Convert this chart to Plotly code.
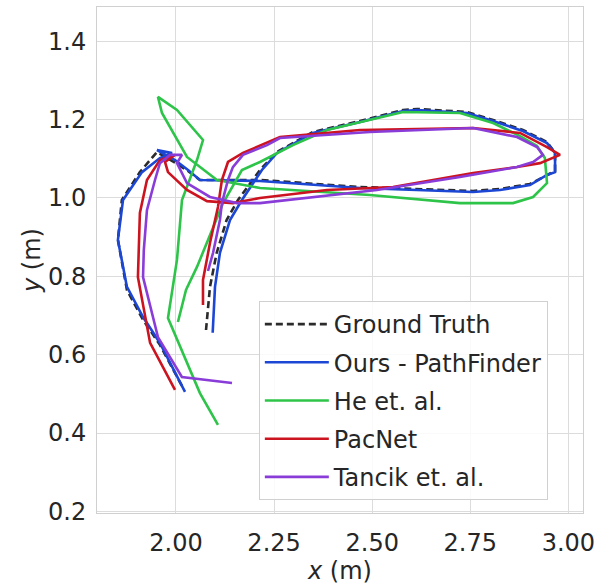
import plotly.graph_objects as go

# ---- data ----
gt_x = [2.0765, 2.0866, 2.1037, 2.129, 2.158, 2.214, 2.2574, 2.349, 2.469, 2.5785, 2.614, 2.7416, 2.808, 2.884,
        2.9455, 2.966, 2.966, 2.9455, 2.902, 2.8257, 2.757, 2.469, 2.214, 2.061, 2.0306, 2.0025, 1.967, 1.9516,
        1.934, 1.908, 1.862, 1.852, 1.875, 1.916, 1.959, 2.018]
gt_y = [0.663, 0.773, 0.860, 0.9438, 0.9949, 1.0715, 1.1174, 1.1685, 1.1966, 1.2247, 1.2272, 1.2196, 1.199, 1.1736,
        1.143, 1.115, 1.069, 1.0587, 1.0357, 1.023, 1.018, 1.028, 1.046, 1.046, 1.069, 1.087, 1.107, 1.1174,
        1.097, 1.066, 0.995, 0.893, 0.765, 0.689, 0.625, 0.515]

ours_x = [2.0935, 2.0994, 2.112, 2.1376, 2.168, 2.219, 2.2574, 2.349, 2.469, 2.5785, 2.614, 2.7416, 2.808, 2.884,
          2.9455, 2.966, 2.966, 2.9455, 2.902, 2.8257, 2.757, 2.469, 2.214, 2.061, 2.0306, 1.9975, 1.9516, 1.99,
          1.959, 1.9134, 1.865, 1.852, 1.875, 1.916, 1.959, 2.023]
ours_y = [0.656, 0.773, 0.860, 0.9438, 0.9949, 1.0715, 1.115, 1.166, 1.194, 1.222, 1.2247, 1.217, 1.1966, 1.171,
          1.140, 1.115, 1.066, 1.0587, 1.033, 1.0204, 1.0153, 1.0255, 1.0434, 1.046, 1.0715, 1.097, 1.1225, 1.115,
          1.102, 1.066, 0.995, 0.893, 0.773, 0.696, 0.630, 0.505]

he_x = [2.005, 2.0255, 2.0535, 2.0866, 2.12, 2.168, 2.214, 2.298, 2.385, 2.5785, 2.7237, 2.808, 2.8767, 2.92,
        2.940, 2.9455, 2.91, 2.859, 2.7237, 2.494, 2.214, 2.1045, 2.028, 1.9643, 1.954, 2.0025, 2.0688, 2.0535,
        2.0153, 2.0025, 1.9796, 2.061, 2.107]
he_y = [0.6834, 0.765, 0.824, 0.9055, 0.987, 1.0715, 1.092, 1.135, 1.1736, 1.2196, 1.217, 1.1915, 1.158, 1.1328,
        1.102, 1.038, 1.0026, 0.987, 0.987, 1.0077, 1.0255, 1.046, 1.1047, 1.217, 1.258, 1.2247, 1.148, 1.097,
        0.995, 0.842, 0.6936, 0.502, 0.4205]

pac_x = [2.0688, 2.0688, 2.0866, 2.107, 2.117, 2.1325, 2.1707, 2.265, 2.469, 2.757, 2.8767, 2.9455, 2.9786, 2.9276,
         2.869, 2.757, 2.553, 2.385, 2.214, 2.145, 2.079, 2.028, 1.9796, 1.972, 1.9975, 1.959, 1.926, 1.908,
         1.903, 1.934, 1.9975]
pac_y = [0.7268, 0.7907, 0.885, 0.977, 1.046, 1.092, 1.115, 1.1557, 1.1736, 1.1787, 1.166, 1.130, 1.11, 1.089,
         1.079, 1.0638, 1.028, 1.0204, 1.0, 0.987, 0.992, 1.0204, 1.066, 1.092, 1.11, 1.097, 1.046, 0.962,
         0.798, 0.630, 0.51]

tan_x = [2.0816, 2.0943, 2.112, 2.117, 2.1325, 2.145, 2.1707, 2.232, 2.265, 2.494, 2.757, 2.869, 2.92, 2.935,
         2.91, 2.869, 2.7237, 2.512, 2.214, 2.1555, 2.0866, 2.028, 2.0025, 2.0153, 1.9847, 1.959, 1.9465, 1.926,
         1.918, 1.916, 1.954, 2.015, 2.1427]
tan_y = [0.8136, 0.8596, 0.9438, 0.987, 1.046, 1.079, 1.11, 1.135, 1.153, 1.1685, 1.1787, 1.1557, 1.130, 1.11,
         1.092, 1.079, 1.0536, 1.0204, 0.987, 0.987, 1.0026, 1.038, 1.089, 1.11, 1.11, 1.089, 1.046, 0.969,
         0.867, 0.798, 0.645, 0.543, 0.5277]

names = ["Ground Truth", "Ours - PathFinder", "He et. al.", "PacNet", "Tancik et. al."]
xs = [gt_x, ours_x, he_x, pac_x, tan_x]
ys = [gt_y, ours_y, he_y, pac_y, tan_y]
colors = ["#2b2b2b", "#1c46d4", "#2ec44a", "#cc1420", "#8a3cd8"]
dashes = ["7px,4px", "solid", "solid", "solid", "solid"]

x_ticks = [2.00, 2.25, 2.50, 2.75, 3.00]
y_ticks = [0.2, 0.4, 0.6, 0.8, 1.0, 1.2, 1.4]

fig = go.Figure()
for i in range(5):
    fig.add_trace(go.Scatter(
        x=xs[i], y=ys[i], mode="lines", name=names[i],
        legendgroup=names[i],
        line=dict(color=colors[i], width=2.6, dash=dashes[i]),
    ))

font_color = "#262626"
fig.update_layout(
    width=596, height=586,
    margin=dict(l=97, r=13, t=7, b=73),
    paper_bgcolor="white", plot_bgcolor="white",
    font=dict(family="DejaVu Sans", size=24, color=font_color),
    showlegend=True,
    legend=dict(
        x=0.333, y=0.419, xanchor="left", yanchor="top",
        bgcolor="rgba(255,255,255,0.85)", bordercolor="#d0d0d0", borderwidth=1,
        font=dict(size=24, color=font_color),
        tracegroupgap=4, itemwidth=64,
    ),
    xaxis=dict(
        range=[1.7987, 3.0372], tickvals=x_ticks, tickformat=".2f",
        showgrid=True, gridcolor="#dcdcdc", gridwidth=1,
        showline=True, linecolor="#d0d0d0", linewidth=1, mirror=True,
        zeroline=False, ticks="", ticklabelstandoff=8, automargin=False,
        title=dict(text="<i>x</i> (m)", standoff=4, font=dict(size=24)),
    ),
    yaxis=dict(
        range=[0.1958, 1.4876], tickvals=y_ticks, tickformat=".1f",
        showgrid=True, gridcolor="#dcdcdc", gridwidth=1,
        showline=True, linecolor="#d0d0d0", linewidth=1, mirror=True,
        zeroline=False, ticks="", ticklabelstandoff=5, automargin=False,
        title=dict(text="<i>y</i> (m)", standoff=0, font=dict(size=24)),
    ),
)

fig.write_html("out.html", config={"displayModeBar": False},
               post_script="document.body.style.margin='0px';")
